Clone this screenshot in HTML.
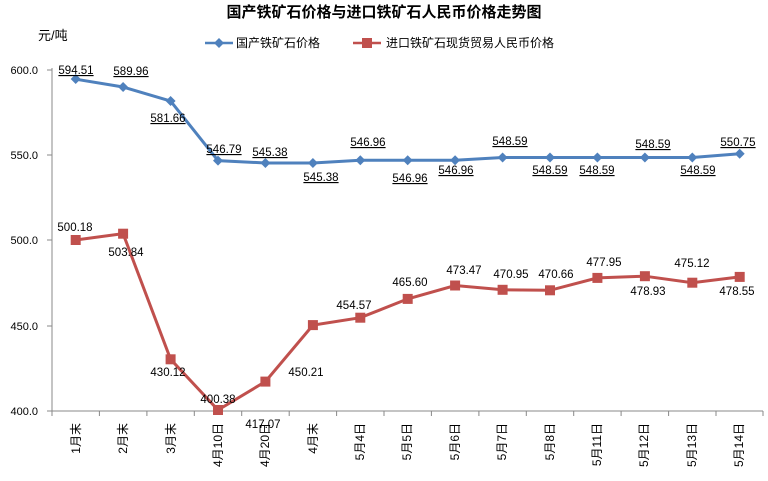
<!DOCTYPE html>
<html><head><meta charset="utf-8"><style>
body{margin:0;background:#fff}
svg text{font-family:"Liberation Sans","Noto Sans CJK SC",sans-serif}
</style></head><body>
<svg width="768" height="476" xmlns="http://www.w3.org/2000/svg">
<rect width="768" height="476" fill="#fff"/>
<text x="384" y="17" font-size="15" font-weight="bold" text-anchor="middle">国产铁矿石价格与进口铁矿石人民币价格走势图</text>
<text x="38" y="40" font-size="13">元/吨</text>
<line x1="205" y1="43" x2="233" y2="43" stroke="#4F81BD" stroke-width="2.5"/>
<path d="M219 38 L224 43 L219 48 L214 43Z" fill="#4F81BD"/>
<text x="236" y="47" font-size="12">国产铁矿石价格</text>
<line x1="353" y1="43" x2="381" y2="43" stroke="#C0504D" stroke-width="2.5"/>
<rect x="362" y="38" width="10" height="10" fill="#C0504D"/>
<text x="386" y="47" font-size="12">进口铁矿石现货贸易人民币价格</text>
<g font-size="11" text-anchor="end">
<text x="38" y="74">600.0</text><text x="38" y="159">550.0</text><text x="38" y="244">500.0</text><text x="38" y="330">450.0</text><text x="38" y="415">400.0</text>
</g>
<g stroke="#888" stroke-width="1">
<line x1="52" y1="68" x2="52" y2="411"/>
<line x1="47" y1="70" x2="52" y2="70"/><line x1="47" y1="155" x2="52" y2="155"/><line x1="47" y1="240" x2="52" y2="240"/><line x1="47" y1="326" x2="52" y2="326"/>
<line x1="47" y1="411" x2="763" y2="411"/>
<path d="M52 411v5M99.4 411v5M146.9 411v5M194.3 411v5M241.7 411v5M289.2 411v5M336.6 411v5M384 411v5M431.4 411v5M478.9 411v5M526.3 411v5M573.7 411v5M621.1 411v5M668.6 411v5M716 411v5M763 411v5"/>
</g>
<g font-size="12">
<text transform="translate(80,423) rotate(-90)" text-anchor="end">1月末</text>
<text transform="translate(127,423) rotate(-90)" text-anchor="end">2月末</text>
<text transform="translate(175,423) rotate(-90)" text-anchor="end">3月末</text>
<text transform="translate(222,423) rotate(-90)" text-anchor="end">4月10日</text>
<text transform="translate(269,423) rotate(-90)" text-anchor="end">4月20日</text>
<text transform="translate(317,423) rotate(-90)" text-anchor="end">4月末</text>
<text transform="translate(364,423) rotate(-90)" text-anchor="end">5月4日</text>
<text transform="translate(411,423) rotate(-90)" text-anchor="end">5月5日</text>
<text transform="translate(459,423) rotate(-90)" text-anchor="end">5月6日</text>
<text transform="translate(506,423) rotate(-90)" text-anchor="end">5月7日</text>
<text transform="translate(554,423) rotate(-90)" text-anchor="end">5月8日</text>
<text transform="translate(601,423) rotate(-90)" text-anchor="end">5月11日</text>
<text transform="translate(648,423) rotate(-90)" text-anchor="end">5月12日</text>
<text transform="translate(696,423) rotate(-90)" text-anchor="end">5月13日</text>
<text transform="translate(743,423) rotate(-90)" text-anchor="end">5月14日</text>
</g>
<polyline fill="none" stroke="#4F81BD" stroke-width="3" points="75.7,79.2 123.1,87 170.6,101.1 218,160.6 265.4,163 312.9,163 360.3,160.3 407.7,160.3 455.1,160.3 502.6,157.5 550,157.5 597.4,157.5 644.9,157.5 692.3,157.5 739.7,153.8"/>
<g fill="#4F81BD">
<path d="M75.7 74l5 5-5 5-5-5z"/><path d="M123.1 82l5 5-5 5-5-5z"/><path d="M170.6 96l5 5-5 5-5-5z"/><path d="M218 155.6l5 5-5 5-5-5z"/><path d="M265.4 158l5 5-5 5-5-5z"/><path d="M312.9 158l5 5-5 5-5-5z"/><path d="M360.3 155.3l5 5-5 5-5-5z"/><path d="M407.7 155.3l5 5-5 5-5-5z"/><path d="M455.1 155.3l5 5-5 5-5-5z"/><path d="M502.6 152.5l5 5-5 5-5-5z"/><path d="M550 152.5l5 5-5 5-5-5z"/><path d="M597.4 152.5l5 5-5 5-5-5z"/><path d="M644.9 152.5l5 5-5 5-5-5z"/><path d="M692.3 152.5l5 5-5 5-5-5z"/><path d="M739.7 148.8l5 5-5 5-5-5z"/>
</g>
<polyline fill="none" stroke="#C0504D" stroke-width="3" points="75.7,240 123.1,233.7 170.6,359.3 218,410 265.4,381.6 312.9,325.1 360.3,317.7 407.7,298.9 455.1,285.5 502.6,289.8 550,290.3 597.4,277.9 644.9,276.2 692.3,282.7 739.7,276.9"/>
<g fill="#C0504D">
<rect x="70.7" y="235" width="10" height="10"/><rect x="118.1" y="228.7" width="10" height="10"/><rect x="165.6" y="354.3" width="10" height="10"/><rect x="213" y="405" width="10" height="10"/><rect x="260.4" y="376.6" width="10" height="10"/><rect x="307.9" y="320.1" width="10" height="10"/><rect x="355.3" y="312.7" width="10" height="10"/><rect x="402.7" y="293.9" width="10" height="10"/><rect x="450.1" y="280.5" width="10" height="10"/><rect x="497.6" y="284.8" width="10" height="10"/><rect x="545" y="285.3" width="10" height="10"/><rect x="592.4" y="272.9" width="10" height="10"/><rect x="639.9" y="271.2" width="10" height="10"/><rect x="687.3" y="277.7" width="10" height="10"/><rect x="734.7" y="271.9" width="10" height="10"/>
</g>
<g font-size="11.5" text-anchor="middle" text-decoration="underline">
<text x="76" y="74">594.51</text><text x="131" y="75">589.96</text><text x="168" y="122">581.66</text><text x="224" y="153">546.79</text><text x="270" y="156">545.38</text><text x="321" y="181">545.38</text><text x="368" y="146">546.96</text><text x="410" y="182">546.96</text><text x="456" y="174">546.96</text><text x="510" y="145">548.59</text><text x="550" y="174">548.59</text><text x="597" y="174">548.59</text><text x="653" y="148">548.59</text><text x="698" y="174">548.59</text><text x="738" y="146">550.75</text>
</g>
<g font-size="11.5" text-anchor="middle">
<text x="75" y="231">500.18</text><text x="126" y="256">503.84</text><text x="168" y="376">430.12</text><text x="218" y="403">400.38</text><text x="263" y="428">417.07</text><text x="306" y="376">450.21</text><text x="354" y="309">454.57</text><text x="410" y="286">465.60</text><text x="464" y="274">473.47</text><text x="511" y="278">470.95</text><text x="556" y="278">470.66</text><text x="604" y="266">477.95</text><text x="648" y="295">478.93</text><text x="692" y="267">475.12</text><text x="737" y="295">478.55</text>
</g>
</svg>
</body></html>
